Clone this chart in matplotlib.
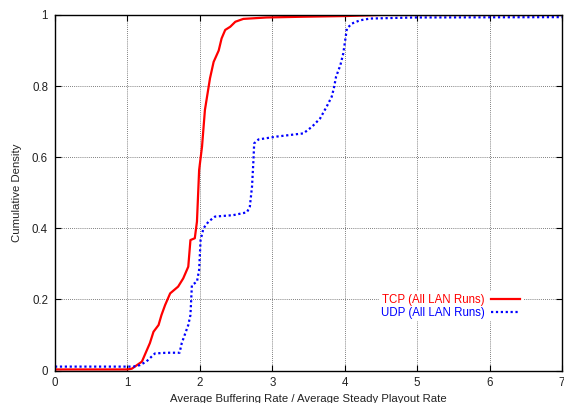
import matplotlib
matplotlib.use('Agg')
import matplotlib.pyplot as plt

plt.rcParams['font.family'] = ['Liberation Sans', 'DejaVu Sans']

# CDF of buffering rate ratio, TCP runs
tcp_x = [0.0, 1.0, 1.06, 1.13, 1.20, 1.24, 1.31, 1.36, 1.43, 1.47, 1.52, 1.59, 1.70,
         1.77, 1.84, 1.87, 1.93, 1.96, 1.99, 2.03, 2.07, 2.14, 2.19, 2.26, 2.30, 2.35,
         2.42, 2.49, 2.60, 2.92, 3.40, 4.00, 4.50, 7.00]
tcp_y = [0.003, 0.003, 0.005, 0.015, 0.025, 0.044, 0.077, 0.109, 0.128, 0.156, 0.184,
         0.217, 0.236, 0.259, 0.292, 0.367, 0.372, 0.419, 0.564, 0.630, 0.733, 0.822,
         0.868, 0.900, 0.934, 0.958, 0.967, 0.981, 0.989, 0.993, 0.995, 0.997, 1.0, 1.0]

# CDF of buffering rate ratio, UDP runs
udp_x = [0.0, 1.08, 1.17, 1.26, 1.38, 1.54, 1.72, 1.75, 1.84, 1.87, 1.89, 1.96, 1.99,
         2.01, 2.05, 2.12, 2.21, 2.46, 2.65, 2.69, 2.72, 2.74, 2.75, 2.81, 3.06, 3.43,
         3.55, 3.66, 3.75, 3.82, 3.85, 3.88, 3.94, 3.98, 4.01, 4.03, 4.10, 4.21, 4.35,
         4.95, 7.00]
udp_y = [0.011, 0.011, 0.015, 0.025, 0.048, 0.050, 0.050, 0.077, 0.128, 0.156, 0.240,
         0.250, 0.283, 0.367, 0.400, 0.419, 0.433, 0.437, 0.445, 0.461, 0.517, 0.592,
         0.639, 0.650, 0.658, 0.667, 0.686, 0.709, 0.742, 0.770, 0.794, 0.826, 0.859,
         0.892, 0.934, 0.962, 0.976, 0.985, 0.990, 0.993, 0.994]

fig = plt.figure(figsize=(5.64, 4.03), dpi=100)
ax = fig.add_axes([0.0975, 0.0806, 0.899, 0.8822])

ax.plot(tcp_x, tcp_y, color='#ff0000', lw=1.6, label='TCP (All LAN Runs)')
ax.plot(udp_x, udp_y, color='#0000ff', lw=1.6, linestyle=(0, (1, 1.2)),
        label='UDP (All LAN Runs)')

ax.set_xlim(0, 7)
ax.set_ylim(0, 1)
ax.set_xticks(range(8))
ax.set_yticks([0, 0.2, 0.4, 0.6, 0.8, 1])
ax.set_yticklabels(['0', '0.2', '0.4', '0.6', '0.8', '1'])
ax.tick_params(direction='in', top=True, right=True, labelsize=8.3, length=4,
               labelcolor='#222222', pad=5)
ax.grid(True, color='#555555', linestyle=(0, (1, 1.5)), lw=0.6)
for s in ax.spines.values():
    s.set_linewidth(1.0)

ax.set_xlabel('Average Buffering Rate / Average Steady Playout Rate', fontsize=8.2,
              labelpad=3, color='#222222')
ax.set_ylabel('Cumulative Density', fontsize=8.2, labelpad=7, color='#222222')

leg = ax.legend(loc='center right', bbox_to_anchor=(0.934, 0.181), markerfirst=False,
                fontsize=8.3, frameon=True, fancybox=False, framealpha=1,
                edgecolor='none', handlelength=2.6, handletextpad=0.5,
                labelspacing=0.1, borderpad=0.2)
for txt, col in zip(leg.get_texts(), ['#ff0000', '#0000ff']):
    txt.set_color(col)

plt.savefig('out.png', dpi=100)
